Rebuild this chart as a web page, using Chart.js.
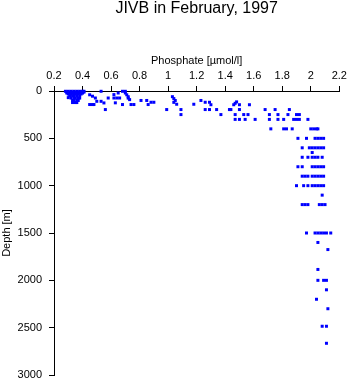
<!DOCTYPE html>
<html>
<head>
<meta charset="utf-8">
<style>
  html, body { margin: 0; padding: 0; background: #fff; }
  canvas { display: block; }
</style>
<script src="https://cdn.jsdelivr.net/npm/chart.js@4"></script>
</head>
<body>
<canvas id="c" width="350" height="384"></canvas>
<script>
const chartTitle = 'JIVB in February, 1997';
const xTitle = 'Phosphate [µmol/l]';
const yTitle = 'Depth [m]';
const xTickValues = [0.2,0.4,0.6,0.8,1,1.2,1.4,1.6,1.8,2,2.2];
const xTickLabels = ['0.2','0.4','0.6','0.8','1','1.2','1.4','1.6','1.8','2','2.2'];
const yTickValues = [0,500,1000,1500,2000,2500,3000];
const yTickLabels = ['0','500','1000','1500','2000','2500','3000'];

// Phosphate [µmol/l] and matching depth [m]
const phosphate = [
  0.28,0.30,0.32,0.34,0.36,0.38,0.40,0.41,0.53,0.68,0.70,
  0.29,0.31,0.33,0.35,0.37,0.39,0.41,0.65,0.70,
  0.29,0.31,0.33,0.36,0.38,0.40,0.62,0.45,0.71,
  0.30,0.32,0.34,0.35,0.37,0.39,0.47,
  0.31,0.33,0.34,0.36,0.38,0.72,1.03,
  0.30,0.32,0.34,0.35,0.37,0.38,0.49,0.58,0.62,0.64,0.66,0.72,
  1.04,0.73,0.33,0.34,0.36,0.37,0.81,0.85,1.05,1.23,
  0.50,0.53,1.48,0.88,0.90,1.04,1.26,1.29,0.33,0.35,0.36,0.63,0.55,
  1.47,1.06,1.18,0.45,0.47,0.48,0.68,0.74,0.76,0.86,1.30,1.46,1.50,1.57,
  0.56,0.99,1.09,1.26,1.29,1.34,1.43,1.44,1.50,1.68,1.75,1.85,
  1.09,1.37,1.47,1.53,1.56,1.71,1.77,1.84,1.90,1.92,
  1.47,1.50,1.54,1.61,1.71,1.77,1.81,1.88,1.90,1.92,1.98,
  1.72,1.81,1.83,1.87,2.00,2.02,2.04,2.05,
  1.91,1.97,2.03,2.05,2.07,2.09,
  1.94,1.99,2.01,2.03,2.05,2.07,2.09,2.01,
  1.94,1.98,2.01,2.03,2.05,2.08,
  1.91,1.94,2.01,2.03,2.05,2.07,2.09,
  1.94,1.96,1.98,2.01,2.03,2.05,2.07,2.09,
  1.90,1.95,1.98,2.01,2.03,2.05,2.07,2.09,2.08,
  1.94,1.96,1.98,2.06,2.08,2.10,
  1.97,2.03,2.05,2.07,2.09,2.11,2.14,
  2.05,2.12,2.05,2.05,2.09,2.11,2.11,2.04,2.12,2.08,2.11,2.11
];
const depth = [
  3,3,3,3,3,3,3,3,3,3,3,
  12,12,12,12,12,12,12,21,21,
  22,22,22,22,22,22,38,40,40,
  32,32,32,32,32,32,55,
  50,50,50,50,50,60,60,
  70,75,75,75,75,75,74,74,74,74,74,75,
  80,91,100,100,100,100,100,100,100,100,
  109,109,115,119,119,120,119,119,122,122,122,125,126,
  130,140,140,143,143,143,143,143,143,143,145,145,145,145,
  196,196,196,196,196,196,196,196,196,196,196,196,
  249,249,249,249,249,249,249,249,249,249,
  300,300,300,300,300,300,300,300,300,300,300,
  400,400,400,400,400,400,400,400,
  500,500,500,500,500,500,
  600,600,600,600,600,600,600,650,
  700,700,700,700,700,700,
  800,800,800,800,800,800,800,
  900,900,900,900,900,900,900,900,
  1000,1000,1000,1000,1000,1000,1000,1000,1100,
  1200,1200,1200,1200,1200,1200,
  1500,1500,1500,1500,1500,1500,1500,
  1600,1675,1885,2000,2000,2000,2100,2200,2300,2485,2485,2665
];

const points = phosphate.map((p, i) => ({ x: p, y: depth[i] }));

function labelFor(values, labels, v) {
  let best = 0;
  for (let i = 1; i < values.length; i++) {
    if (Math.abs(values[i] - v) < Math.abs(values[best] - v)) best = i;
  }
  return labels[best];
}

Chart.defaults.font.family = "Arial, 'Liberation Sans', Helvetica, sans-serif";
Chart.defaults.color = '#000';

const axisGrid = { display: true, drawOnChartArea: false, drawTicks: true, tickLength: 5, color: '#000', lineWidth: 1 };
const axisBorder = { display: true, color: '#000', width: 1 };

new Chart(document.getElementById('c'), {
  type: 'scatter',
  data: {
    datasets: [{
      data: points,
      pointStyle: 'rect',
      pointRadius: 2.12,
      pointHoverRadius: 2.12,
      backgroundColor: '#0000ff',
      borderColor: '#0000ff',
      borderWidth: 0,
      clip: false
    }]
  },
  options: {
    responsive: false,
    animation: false,
    devicePixelRatio: 1,
    layout: { padding: { left: 0, right: 10.7, top: 0, bottom: 9 } },
    plugins: {
      legend: { display: false },
      tooltip: { enabled: false },
      title: {
        display: true,
        text: chartTitle,
        fullSize: false,
        color: '#000',
        font: { size: 16, weight: 'normal', lineHeight: 1 },
        padding: { top: 1, bottom: 33.4 }
      }
    },
    scales: {
      x: {
        type: 'linear',
        position: 'top',
        min: 0.2,
        max: 2.2,
        ticks: {
          stepSize: 0.2,
          padding: 3.5,
          maxRotation: 0,
          autoSkip: false,
          font: { size: 11 },
          callback: (v) => labelFor(xTickValues, xTickLabels, v)
        },
        grid: axisGrid,
        border: axisBorder,
        title: { display: true, text: xTitle, font: { size: 11 }, padding: { top: 4, bottom: 2 } },
        afterFit: (s) => { s.height = 40.6; s.paddingLeft = 0; s.paddingRight = 0; }
      },
      y: {
        type: 'linear',
        reverse: true,
        min: 0,
        max: 3000,
        ticks: {
          stepSize: 500,
          padding: 7,
          autoSkip: false,
          font: { size: 11 },
          callback: (v) => labelFor(yTickValues, yTickLabels, v)
        },
        grid: axisGrid,
        border: axisBorder,
        title: { display: true, text: yTitle, font: { size: 11 }, padding: { top: 0, bottom: 4 } },
        afterFit: (s) => { s.width = 54; s.paddingTop = 0; s.paddingBottom = 0; }
      }
    }
  }
});
</script>
</body>
</html>
